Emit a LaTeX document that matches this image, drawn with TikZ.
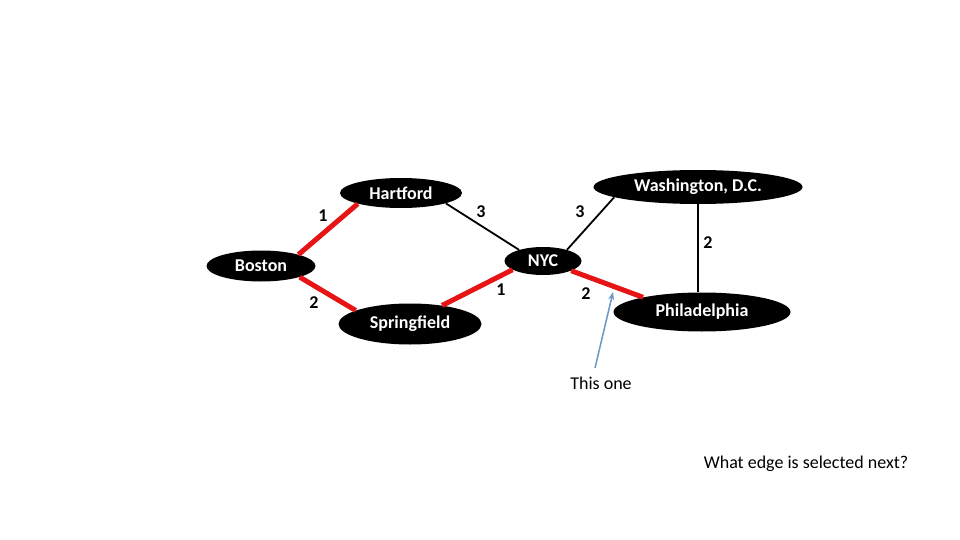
\documentclass[tikz,border=0pt]{standalone}
\usepackage{fontspec}
\setmainfont{Carlito}
\usepackage{tikz}
\usetikzlibrary{shapes.geometric,arrows.meta}

\definecolor{pointer}{RGB}{104,152,196}
\definecolor{chosen}{RGB}{230,20,20}

\tikzset{
  city/.style={ellipse,fill=black,text=white,inner sep=0pt,
    font=\fontsize{18}{21}\selectfont\bfseries},
  wt/.style={font=\fontsize{18}{21}\selectfont\bfseries,inner sep=1pt},
  tree/.style={chosen,line width=5pt},
  plain/.style={black,line width=1.8pt}
}

\begin{document}
\begin{tikzpicture}[x=1pt,y=-1pt]
    \useasboundingbox[fill=white] (0,0) rectangle (960,540);

    \node[city,minimum width=122pt,minimum height=30pt] (hart) at (401,193) {Hartford};
    \node[city,minimum width=209pt,minimum height=34pt] (wash) at (698,187) {Washington, D.C.};
    \node[city,minimum width=109pt,minimum height=31pt] (bos) at (261,266) {Boston};
    \node[city,minimum width=77pt,minimum height=28pt] (nyc) at (543,261) {NYC};
    \node[city,minimum width=143pt,minimum height=41pt] (spr) at (410,324) {Springfield};
    \node[city,minimum width=177pt,minimum height=39pt] (phil) at (702,312) {Philadelphia};

    % weights
    \node[wt] (w1) at (323,216) {1};
    \node[wt] (w2) at (481,212) {3};
    \node[wt] (w3) at (580,212) {3};
    \node[wt] (w4) at (708,243) {2};
    \node[wt] (w5) at (501,290) {1};
    \node[wt] (w6) at (586,294) {2};
    \node[wt] (w7) at (314,303) {2};

    % edges
    \draw[tree] (bos.17) -- (hart.194);
    \draw[tree] (bos.-16) -- (spr.166);
    \draw[plain] (hart.-13) -- (nyc.155);
    \draw[tree] (spr.30) -- (nyc.196);
    \draw[plain] (nyc.25) -- (wash.187);
    \draw[tree] (nyc.-19) -- (phil.166);
    \draw[plain] (wash.south) -- (wash.south |- phil.north);

    % pointer
    \node[font=\fontsize{18}{21}\selectfont] (note) at (601,383) {This one};
    \coordinate (tip) at (613,292);
    \draw[pointer,line width=1.5pt,-{Stealth[length=8pt,width=6pt]}] (595,368) -- (tip);

    \node[font=\fontsize{18}{21}\selectfont] (ask) at (806,464) {What edge is selected next?};
\end{tikzpicture}
\end{document}
